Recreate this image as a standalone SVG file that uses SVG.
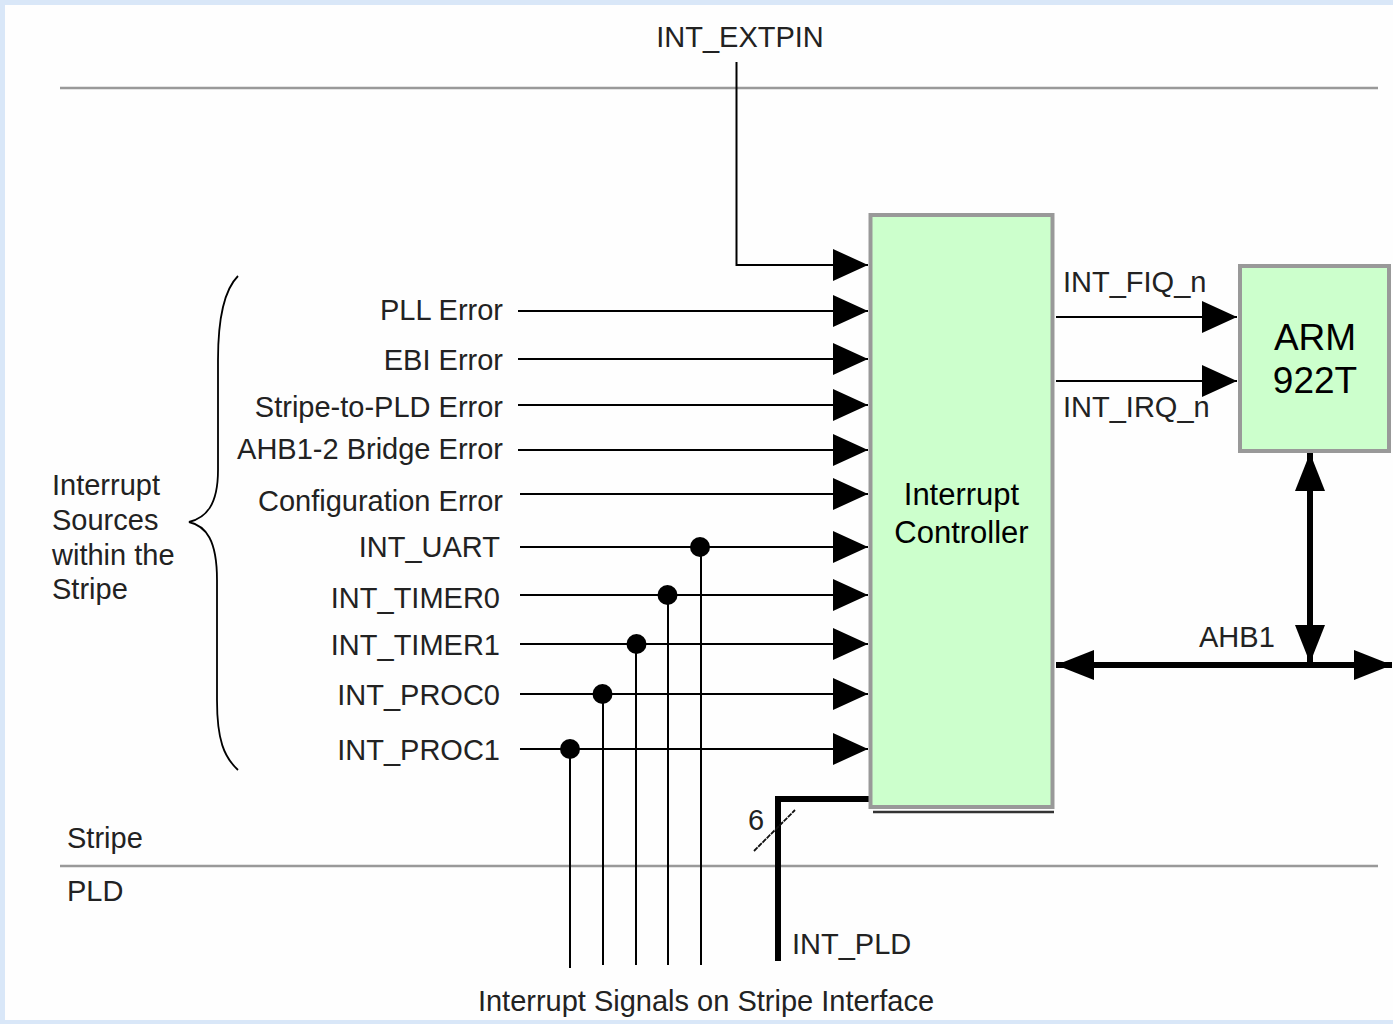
<svg xmlns="http://www.w3.org/2000/svg" width="1393" height="1024" viewBox="0 0 1393 1024">
<defs>
<marker id="arr" markerUnits="userSpaceOnUse" markerWidth="36" markerHeight="34" refX="35" refY="17" orient="auto">
<path d="M0,1 L35,17 L0,33 Z" fill="#000"/>
</marker>
<marker id="arrB" markerUnits="userSpaceOnUse" markerWidth="40" markerHeight="32" refX="38" refY="16" orient="auto-start-reverse">
<path d="M0,1 L38,16 L0,31 Z" fill="#000"/>
</marker>
</defs>
<style>
.lbl{font-family:"Liberation Sans",Arial,sans-serif;font-size:29px;fill:#222}
.big{font-family:"Liberation Sans",Arial,sans-serif;fill:#000}
.sig{stroke:#000;stroke-width:2;fill:none}
.bus{stroke:#000;stroke-width:6;fill:none}
.sep{stroke:#999;stroke-width:2.5}
.box{fill:#ccffcc;stroke:#999;stroke-width:4}
</style>
<rect x="0" y="0" width="1393" height="1024" fill="#d9e7f8"/>
<rect x="5" y="5" width="1388" height="1015" fill="#fefefe"/>

<g id="separators">
<line class="sep" x1="60" y1="88" x2="1378" y2="88"/>
<line class="sep" x1="60" y1="866" x2="1378" y2="866"/>
<text class="lbl" x="67" y="848">Stripe</text>
<text class="lbl" x="67" y="901">PLD</text>
</g>

<g id="brace">
<path d="M238,276 C224,290 218,320 218,360 L218,470 C218,505 206,518 189,522 C206,526 217,540 217,580 L217,700 C217,740 224,757 238,770" fill="none" stroke="#000" stroke-width="1.8"/>
<text class="lbl" x="52" y="495">Interrupt</text>
<text class="lbl" x="52" y="530">Sources</text>
<text class="lbl" x="52" y="565">within the</text>
<text class="lbl" x="52" y="599">Stripe</text>
</g>

<g id="source-labels" class="lbl" text-anchor="end">
<text x="503" y="320">PLL Error</text>
<text x="503" y="370">EBI Error</text>
<text x="503" y="417">Stripe-to-PLD Error</text>
<text x="503" y="459">AHB1-2 Bridge Error</text>
<text x="503" y="511">Configuration Error</text>
<text x="500" y="557">INT_UART</text>
<text x="500" y="608">INT_TIMER0</text>
<text x="500" y="655">INT_TIMER1</text>
<text x="500" y="705">INT_PROC0</text>
<text x="500" y="760">INT_PROC1</text>
</g>

<g id="connectors">
<polyline class="sig" points="736.5,62 736.5,265 868,265" marker-end="url(#arr)"/>
<line class="sig" x1="518" y1="311" x2="868" y2="311" marker-end="url(#arr)"/>
<line class="sig" x1="518" y1="359" x2="868" y2="359" marker-end="url(#arr)"/>
<line class="sig" x1="518" y1="405" x2="868" y2="405" marker-end="url(#arr)"/>
<line class="sig" x1="518" y1="450" x2="868" y2="450" marker-end="url(#arr)"/>
<line class="sig" x1="520" y1="494" x2="868" y2="494" marker-end="url(#arr)"/>
<line class="sig" x1="520" y1="547" x2="868" y2="547" marker-end="url(#arr)"/>
<line class="sig" x1="520" y1="595" x2="868" y2="595" marker-end="url(#arr)"/>
<line class="sig" x1="520" y1="644" x2="868" y2="644" marker-end="url(#arr)"/>
<line class="sig" x1="520" y1="694" x2="868" y2="694" marker-end="url(#arr)"/>
<line class="sig" x1="520" y1="749" x2="868" y2="749" marker-end="url(#arr)"/>
<line class="sig" x1="701" y1="547" x2="701" y2="965"/>
<line class="sig" x1="668" y1="595" x2="668" y2="965"/>
<line class="sig" x1="636" y1="644" x2="636" y2="965"/>
<line class="sig" x1="603" y1="694" x2="603" y2="965"/>
<line class="sig" x1="570" y1="749" x2="570" y2="968"/>
<circle cx="700" cy="547" r="10"/>
<circle cx="667.5" cy="595" r="10"/>
<circle cx="636.5" cy="644" r="10"/>
<circle cx="602.5" cy="694" r="10"/>
<circle cx="570" cy="749" r="10"/>
<polyline points="869,799 778,799 778,961" fill="none" stroke="#000" stroke-width="6"/>
<line x1="754" y1="851" x2="795" y2="810" stroke="#111" stroke-width="1.8" stroke-dasharray="5 1"/>
<text class="lbl" x="756" y="830" text-anchor="middle">6</text>
<text class="lbl" x="792" y="954">INT_PLD</text>
<line class="sig" x1="1056" y1="317" x2="1237" y2="317" marker-end="url(#arr)"/>
<line class="sig" x1="1056" y1="381" x2="1237" y2="381" marker-end="url(#arr)"/>
<text class="lbl" x="1063" y="292">INT_FIQ_n</text>
<text class="lbl" x="1063" y="417">INT_IRQ_n</text>
<line class="bus" x1="1056" y1="665" x2="1392" y2="665" marker-start="url(#arrB)" marker-end="url(#arrB)"/>
<line class="bus" x1="1310" y1="453" x2="1310" y2="663" marker-start="url(#arrB)" marker-end="url(#arrB)"/>
<text class="lbl" x="1199" y="647" font-size="27">AHB1</text>
<text class="lbl" x="740" y="47" text-anchor="middle">INT_EXTPIN</text>
<text class="lbl" x="706" y="1011" text-anchor="middle">Interrupt Signals on Stripe Interface</text>
</g>

<g id="interrupt-controller">
<line x1="873" y1="812" x2="1054" y2="812" stroke="#333" stroke-width="2.5"/>
<rect class="box" x="870.5" y="215" width="182" height="592"/>
<text class="big" x="961.5" y="505" font-size="31" text-anchor="middle">Interrupt</text>
<text class="big" x="961.5" y="543" font-size="31" text-anchor="middle">Controller</text>
</g>

<g id="arm922t">
<rect class="box" x="1240" y="266" width="149" height="185"/>
<text class="big" x="1315" y="350" font-size="37" text-anchor="middle">ARM</text>
<text class="big" x="1315" y="393" font-size="37" text-anchor="middle">922T</text>
</g>
</svg>
